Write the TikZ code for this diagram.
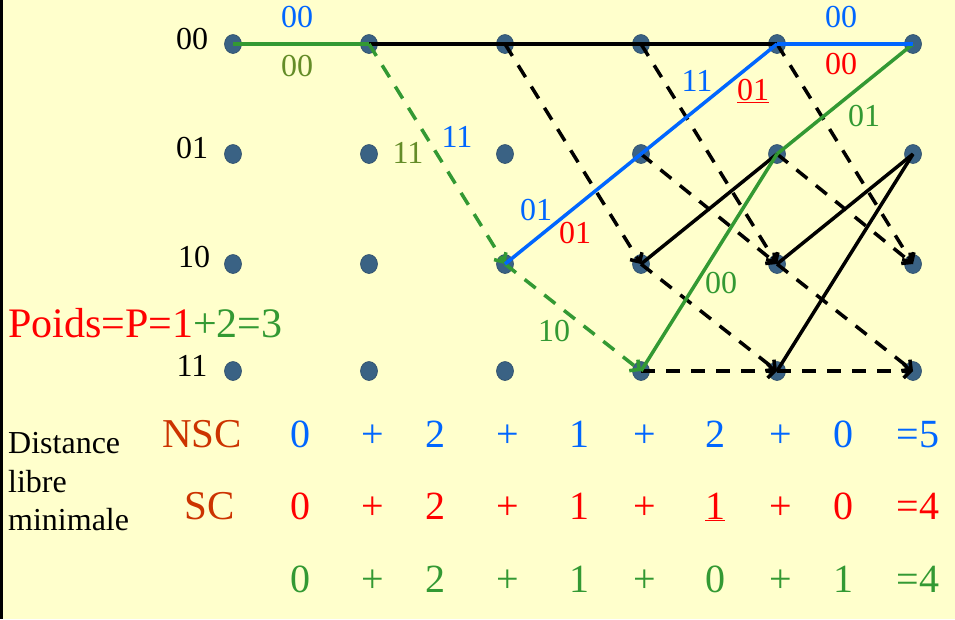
\documentclass[tikz,border=0pt]{standalone}
\usepackage{fontspec}
\setmainfont{Liberation Serif}
\usetikzlibrary{arrows.meta,shapes.geometric}
\definecolor{bg}{RGB}{255,255,204}
\definecolor{pblue}{RGB}{0,102,255}
\definecolor{pred}{RGB}{255,0,0}
\definecolor{pgreen}{RGB}{51,153,51}
\definecolor{polive}{RGB}{100,140,40}
\definecolor{porange}{RGB}{204,51,0}
\definecolor{dotc}{RGB}{58,98,132}
\begin{document}
\begin{tikzpicture}[x=1pt,y=-1pt,
  dot/.style={ellipse,minimum width=17pt,minimum height=19pt,inner sep=0pt,fill=dotc,draw=dotc!80!black,line width=0.6pt},
  sol/.style={line width=3.5pt},
  dsh/.style={line width=3.5pt,dash pattern=on 14pt off 11pt,-{Straight Barb[length=7pt,width=14pt]}},
  lab/.style={font=\fontsize{32}{36}\selectfont,inner sep=0pt},
  big/.style={font=\fontsize{40}{44}\selectfont,inner sep=0pt,anchor=base},
  side/.style={font=\fontsize{32}{36}\selectfont,inner sep=0pt,anchor=base west},
]
\useasboundingbox (0,0) rectangle (955,619);
\fill[bg] (0,0) rectangle (955,619);
\fill[black] (0,0) rectangle (3,619);

% trellis dots
\foreach \c/\x in {0/233,1/369,2/505,3/641,4/777,5/913}{
  \foreach \r/\y in {0/44,1/154,2/264,3/371}{
    \node[dot] (n\c\r) at (\x,\y) {};
  }
}

% state labels
\node[lab] (s00) at (192,39) {00};
\node[lab] (s01) at (192,148) {01};
\node[lab] (s10) at (194,257) {10};
\node[lab] (s11) at (192,366) {11};

% black solid
\draw[sol] (n10.center) -- (n20.center);
\draw[sol] (n20.center) -- (n30.center);
\draw[sol] (n30.center) -- (n40.center);
\draw[sol] (n32.center) -- (n41.center);
\draw[sol] (n42.center) -- (n51.center);
\draw[sol] (n43.center) -- (n51.center);

% black dashed
\draw[dsh] (n20.center) -- (n32.center);
\draw[dsh] (n30.center) -- (n42.center);
\draw[dsh] (n31.center) -- (n42.center);
\draw[dsh] (n32.center) -- (n43.center);
\draw[dsh] (n33.center) -- (n43.center);
\draw[dsh] (n40.center) -- (n52.center);
\draw[dsh] (n41.center) -- (n52.center);
\draw[dsh] (n42.center) -- (n53.center);
\draw[dsh] (n43.center) -- (n53.center);

% green path
\draw[sol,pgreen] (n00.center) -- (n10.center);
\draw[dsh,pgreen] (n10.center) -- (n22.center);
\draw[dsh,pgreen] (n22.center) -- (n33.center);
\draw[sol,pgreen] (n33.center) -- (n41.center);
\draw[sol,pgreen] (n41.center) -- (n50.center);

% blue path
\draw[sol,pblue] (n22.center) -- (n31.center);
\draw[sol,pblue] (n31.center) -- (n40.center);
\draw[sol,pblue] (n40.center) -- (n50.center);

% transition labels
\node[lab,text=pblue] (l1) at (297,17) {00};
\node[lab,text=polive] (l2) at (297,66) {00};
\node[lab,text=polive] (l3) at (408,153) {11};
\node[lab,text=pblue] (l4) at (457,137) {11};
\node[lab,text=pblue] (l5) at (536,210) {01};
\node[lab,text=pred] (l6) at (575,233) {01};
\node[lab,text=pblue] (l7) at (697,81) {11};
\node[lab,text=pred,anchor=base] (l8) at (753,100) {\underline{01}};
\node[lab,text=pblue] (l9) at (841,17) {00};
\node[lab,text=pred] (l10) at (841,64) {00};
\node[lab,text=pgreen] (l11) at (864,116) {01};
\node[lab,text=pgreen] (l12) at (721,283) {00};
\node[lab,text=pgreen] (l13) at (554,331) {10};

% weight
\node[anchor=base west,inner sep=0pt,font=\fontsize{42}{46}\selectfont] (poids) at (8,337)
  {\textcolor{pred}{Poids=P=1}\textcolor{pgreen}{+2=3}};

% distance label
\node[side] (d1) at (8,453) {Distance};
\node[side] (d2) at (8,492) {libre};
\node[side] (d3) at (8,530) {minimale};

\node[big,text=porange,font=\fontsize{41}{45}\selectfont] (nsc) at (202,447) {NSC};
\node[big,text=porange,font=\fontsize{41}{45}\selectfont] (sc) at (210,519) {SC};

\foreach \x/\t [count=\i] in {300/0,373/+,435/2,508/+,579/1,645/+,715/2,781/+,843/0,918/=5}
  \node[big,text=pblue] (a\i) at (\x,447) {\t};
\foreach \x/\t [count=\i] in {300/0,373/+,435/2,508/+,579/1,645/+,715/{\underline{1}},781/+,843/0,918/=4}
  \node[big,text=pred] (b\i) at (\x,519) {\t};
\foreach \x/\t [count=\i] in {300/0,373/+,435/2,508/+,579/1,645/+,715/0,781/+,843/1,918/=4}
  \node[big,text=pgreen] (c\i) at (\x,592) {\t};
\end{tikzpicture}
\end{document}
